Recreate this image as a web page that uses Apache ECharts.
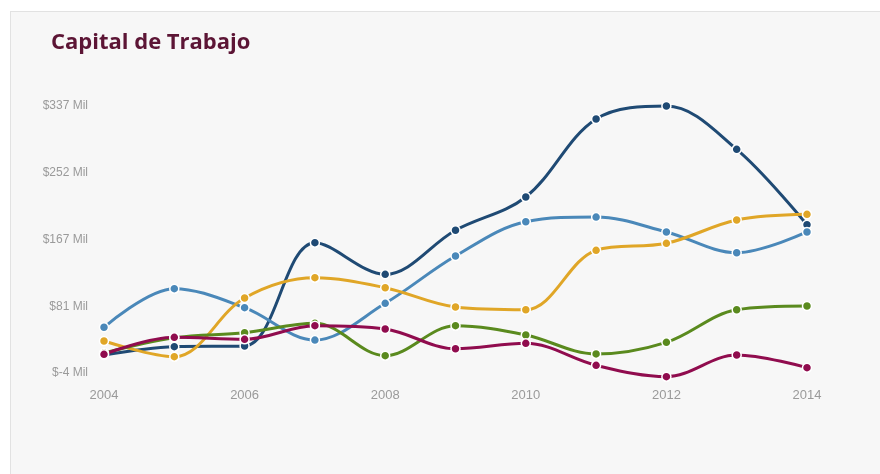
<!DOCTYPE html>
<html>
<head>
<meta charset="utf-8">
<script src="https://cdn.jsdelivr.net/npm/echarts@6/dist/echarts.min.js"></script>
<style>
  html, body { margin: 0; padding: 0; background: #ffffff; }
  #card {
    position: absolute; left: 10px; top: 11px; width: 880px; height: 480px;
    background: #f7f7f7; border: 1px solid #e2e2e2; box-sizing: border-box;
  }
  #chart { position: absolute; left: 0; top: 0; width: 880px; height: 474px; }
</style>
</head>
<body>
<div id="card"></div>
<div id="chart"></div>
<script>
// Working capital per year, in millions
const years = ['2004','2005','2006','2007','2008','2009','2010','2011','2012','2013','2014'];

const navySeries   = [19, 29.6, 30.5, 162.4, 122, 178.3, 220.8, 320.4, 337, 281.7, 185.4];
const steelSeries  = [54.4, 103.7, 79.4, 38.1, 85, 145.4, 189.2, 195.2, 176.1, 149.6, 176.1];
const goldSeries   = [36.9, 16.8, 91.8, 117.7, 104.9, 80.3, 76.8, 152.7, 161.6, 191.4, 198.7];
const greenSeries  = [21.5, 41, 47.5, 59.5, 18.1, 56.4, 44.5, 20.3, 35.2, 76.8, 81.6];
const maroonSeries = [19.9, 41.6, 39, 56.4, 52.2, 27, 33.9, 5.8, -8.7, 19, 2.8];

const yMin = -4;
const yMax = 337;

const chart = echarts.init(document.getElementById('chart'), null, { renderer: 'canvas' });

function lineSeries(name, data, color) {
  return {
    name: name,
    type: 'line',
    data: data,
    smooth: 0.35,
    clip: false,
    symbol: 'circle',
    symbolSize: 9,
    lineStyle: { width: 3, color: color },
    itemStyle: { color: color, borderColor: '#ffffff', borderWidth: 1.5 }
  };
}

chart.setOption({
  backgroundColor: 'transparent',
  animation: false,
  title: {
    text: 'Capital de Trabajo',
    left: 46, top: 27,
    textStyle: { color: '#5c1535', fontSize: 22, fontWeight: 'bold', fontFamily: 'Open Sans' }
  },
  grid: { left: 104, right: 73, top: 106, bottom: 101 },
  xAxis: {
    type: 'category',
    data: years,
    boundaryGap: false,
    axisLine: { show: false },
    axisTick: { show: false },
    axisLabel: {
      interval: 1, color: '#9a9a9a', fontSize: 13, margin: 16,
      fontFamily: 'Liberation Sans'
    },
    splitLine: { show: false }
  },
  yAxis: {
    type: 'value',
    min: yMin, max: yMax,
    interval: (yMax - yMin) / 4,
    axisLine: { show: false },
    axisTick: { show: false },
    axisLabel: {
      color: '#9a9a9a', fontSize: 12, margin: 16, fontFamily: 'Liberation Sans',
      formatter: v => '$' + Math.round(v) + ' Mil'
    },
    splitLine: {
      lineStyle: {
        color: ['#9a9d8c', '#e3e3e3', '#e3e3e3', '#e3e3e3', '#e3e3e3'],
        width: [2, 1, 1, 1, 1]
      }
    }
  },
  series: [
    lineSeries('Navy', navySeries, '#1f4a74'),
    lineSeries('Steel', steelSeries, '#4a88b9'),
    lineSeries('Gold', goldSeries, '#e0a627'),
    lineSeries('Green', greenSeries, '#5a8a1e'),
    lineSeries('Maroon', maroonSeries, '#900c4e')
  ]
});
</script>
</body>
</html>
